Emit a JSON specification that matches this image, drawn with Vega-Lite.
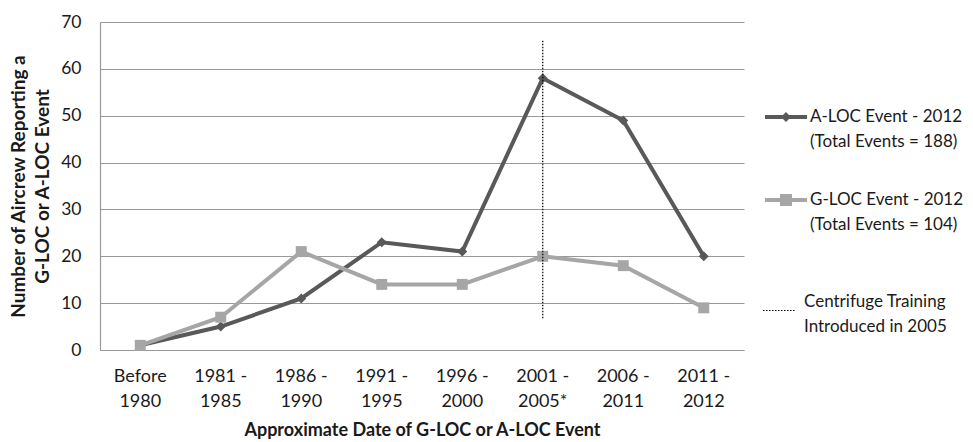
{
  "$schema": "https://vega.github.io/schema/vega-lite/v6.json",
  "width": 644,
  "height": 328,
  "autosize": {"type": "none"},
  "padding": {"left": 100, "top": 22, "right": 229, "bottom": 92},
  "background": "white",
  "config": {"font": "Lato", "view": {"stroke": null}},
  "datasets": {
    "counts": [
      {"period": "Before 1980", "series": "A-LOC", "count": 1},
      {"period": "1981 - 1985", "series": "A-LOC", "count": 5},
      {"period": "1986 - 1990", "series": "A-LOC", "count": 11},
      {"period": "1991 - 1995", "series": "A-LOC", "count": 23},
      {"period": "1996 - 2000", "series": "A-LOC", "count": 21},
      {"period": "2001 - 2005*", "series": "A-LOC", "count": 58},
      {"period": "2006 - 2011", "series": "A-LOC", "count": 49},
      {"period": "2011 - 2012", "series": "A-LOC", "count": 20},
      {"period": "Before 1980", "series": "G-LOC", "count": 1},
      {"period": "1981 - 1985", "series": "G-LOC", "count": 7},
      {"period": "1986 - 1990", "series": "G-LOC", "count": 21},
      {"period": "1991 - 1995", "series": "G-LOC", "count": 14},
      {"period": "1996 - 2000", "series": "G-LOC", "count": 14},
      {"period": "2001 - 2005*", "series": "G-LOC", "count": 20},
      {"period": "2006 - 2011", "series": "G-LOC", "count": 18},
      {"period": "2011 - 2012", "series": "G-LOC", "count": 9}
    ],
    "marker": [
      {"period": "2001 - 2005*", "marker": "Centrifuge", "top": 66, "bottom": 6.5}
    ]
  },
  "encoding": {
    "x": {
      "field": "period",
      "type": "nominal",
      "sort": null,
      "scale": {"domain": ["Before 1980", "1981 - 1985", "1986 - 1990", "1991 - 1995", "1996 - 2000", "2001 - 2005*", "2006 - 2011", "2011 - 2012"]},
      "axis": {
        "title": "Approximate Date of G-LOC or A-LOC Event",
        "titleFont": "Lato",
        "titleFontSize": 18,
        "titleFontWeight": "bold",
        "titleColor": "#1a1a1a",
        "titlePadding": 11,
        "labelAngle": 0,
        "labelExpr": "[substring(datum.label, 0, 6), substring(datum.label, 7)]",
        "labelFontSize": 18,
        "labelColor": "#1a1a1a",
        "labelLineHeight": 25,
        "labelPadding": 17,
        "ticks": false,
        "grid": false,
        "domainColor": "#999999",
        "domainWidth": 1.2
      }
    }
  },
  "layer": [
    {
      "data": {"name": "counts"},
      "mark": {"type": "line", "strokeWidth": 4},
      "encoding": {
        "y": {
          "field": "count",
          "type": "quantitative",
          "scale": {"domain": [0, 70], "nice": false},
          "axis": {
            "values": [0, 10, 20, 30, 40, 50, 60, 70],
            "title": ["Number of Aircrew Reporting a", "G-LOC or A-LOC Event"],
            "titleFont": "Lato",
            "titleFontSize": 19,
            "titleFontWeight": "bold",
            "titleColor": "#1a1a1a",
            "titleLineHeight": 24,
            "titlePadding": 8,
            "labelFontSize": 17.5,
            "labelColor": "#1a1a1a",
            "labelPadding": 19,
            "ticks": false,
            "grid": true,
            "gridColor": "#999999",
            "gridWidth": 1.2,
            "domainColor": "#999999",
            "domainWidth": 1.2
          }
        },
        "color": {
          "field": "series",
          "type": "nominal",
          "scale": {"domain": ["A-LOC", "G-LOC"], "range": ["#595959", "#a6a6a6"]},
          "legend": {
            "orient": "none",
            "legendX": 674,
            "legendY": 83,
            "title": null,
            "padding": 0,
            "labelFont": "Lato",
            "labelFontSize": 17,
            "labelLimit": 0,
            "labelColor": "#1a1a1a",
            "labelExpr": "datum.label == 'A-LOC' ? ['A-LOC Event - 2012', '(Total Events = 188)'] : ['G-LOC Event - 2012', '(Total Events = 104)']",
            "symbolSize": 400,
            "symbolStrokeWidth": 4,
            "labelOffset": 12,
            "rowPadding": 38,
            "encode": {
              "symbols": {
                "update": {
                  "shape": {"signal": "datum.value == 'A-LOC' ? 'M-2.1,0H2.1M0,-0.22L0.22,0L0,0.22L-0.22,0Z' : 'M-2.1,0H2.1M-0.4,-0.4H0.4V0.4H-0.4Z'"},
                  "fill": {"signal": "datum.value == 'A-LOC' ? '#595959' : '#a6a6a6'"},
                  "stroke": {"signal": "datum.value == 'A-LOC' ? '#595959' : '#a6a6a6'"},
                  "strokeWidth": {"value": 4},
                  "opacity": {"value": 1}
                }
              },
              "labels": {"update": {"lineHeight": {"value": 25}}}
            }
          }
        }
      }
    },
    {
      "data": {"name": "counts"},
      "transform": [{"filter": "datum.series == 'A-LOC'"}],
      "mark": {"type": "point", "filled": true, "opacity": 1, "size": 100, "shape": "diamond", "color": "#595959"},
      "encoding": {
        "y": {"field": "count", "type": "quantitative"}
      }
    },
    {
      "data": {"name": "counts"},
      "transform": [{"filter": "datum.series == 'G-LOC'"}],
      "mark": {"type": "point", "filled": true, "opacity": 1, "size": 120, "shape": "square", "color": "#a6a6a6"},
      "encoding": {
        "y": {"field": "count", "type": "quantitative"}
      }
    },
    {
      "data": {"name": "marker"},
      "mark": {"type": "rule", "strokeWidth": 1.2, "color": "#000000"},
      "encoding": {
        "y": {"field": "top", "type": "quantitative"},
        "y2": {"field": "bottom"},
        "strokeDash": {
          "field": "marker",
          "type": "nominal",
          "scale": {"domain": ["Centrifuge"], "range": [[1.5, 1.5]]},
          "legend": {
            "orient": "none",
            "legendX": 662,
            "legendY": 271,
            "title": null,
            "padding": 0,
            "labelFont": "Lato",
            "labelFontSize": 17,
            "labelLimit": 0,
            "labelColor": "#1a1a1a",
            "labelExpr": "['Centrifuge Training', 'Introduced in 2005']",
            "symbolSize": 1089,
            "symbolStrokeWidth": 1.2,
            "symbolStrokeColor": "#000000",
            "labelOffset": 7,
            "encode": {"labels": {"update": {"lineHeight": {"value": 25}, "dy": {"value": -8.5}}}}
          }
        }
      }
    }
  ]
}
